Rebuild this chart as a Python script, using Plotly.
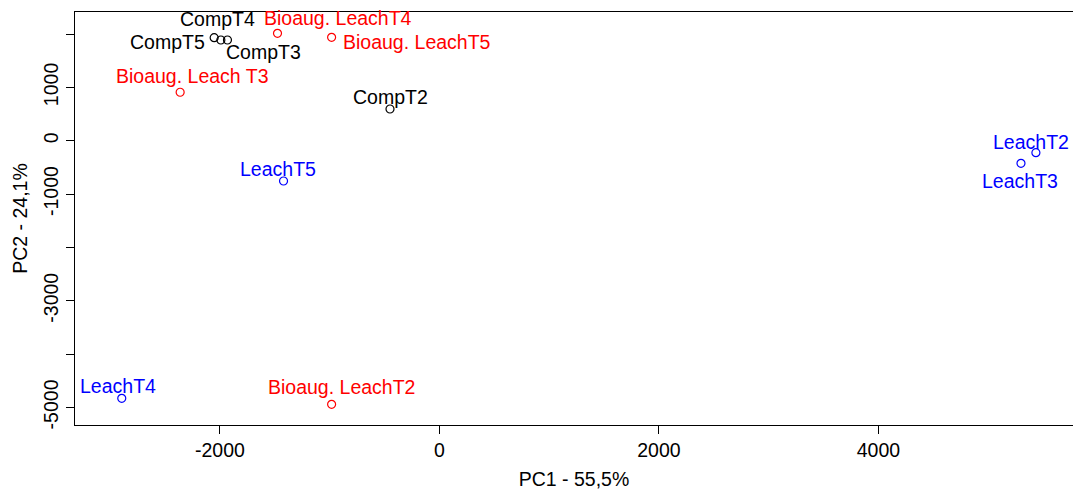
import plotly.graph_objects as go

# PCA scores
names = ["CompT2", "CompT3", "CompT4", "CompT5",
         "Bioaug. LeachT2", "Bioaug. Leach T3", "Bioaug. LeachT4", "Bioaug. LeachT5",
         "LeachT2", "LeachT3", "LeachT4", "LeachT5"]
pc1 = [-450, -1931, -1991, -2052,
       -982, -2362, -1475, -982,
       5435, 5299, -2894, -1420]
pc2 = [594, 1888, 1888, 1931,
       -4943, 908, 2014, 1939,
       -225, -424, -4830, -756]
groups = ["Comp"] * 4 + ["Bioaug"] * 4 + ["Leach"] * 4

colors = {"Comp": "black", "Bioaug": "red", "Leach": "blue"}

# label offsets in pixels (dx, dy up)
offsets = {
    "CompT2": (0, 12), "CompT3": (36, -12), "CompT4": (-3, 21), "CompT5": (-47, -4),
    "Bioaug. LeachT2": (10, 17), "Bioaug. Leach T3": (12, 16),
    "Bioaug. LeachT4": (60, 15), "Bioaug. LeachT5": (85, -5),
    "LeachT2": (-5, 11), "LeachT3": (-1, -18), "LeachT4": (-4, 12), "LeachT5": (-6, 12),
}

yticks = [-5000, -4000, -3000, -2000, -1000, 0, 1000, 2000]
ytext = ["-5000", "", "-3000", "", "-1000", "0", "1000", ""]
xticks = [-2000, 0, 2000, 4000]
xtext = ["-2000", "0", "2000", "4000"]

FONT = "Liberation Sans, Arial, sans-serif"

fig = go.Figure()

for g in ["Comp", "Bioaug", "Leach"]:
    idx = [i for i, gg in enumerate(groups) if gg == g]
    fig.add_trace(go.Scatter(
        x=[pc1[i] for i in idx],
        y=[pc2[i] for i in idx],
        mode="markers",
        marker=dict(symbol="circle-open", size=8, color=colors[g], line=dict(width=1.2)),
        name=g,
        showlegend=False,
        cliponaxis=False
    ))

for n, x, y, g in zip(names, pc1, pc2, groups):
    dx, dy = offsets[n]
    fig.add_annotation(
        x=x, y=y, text=n, showarrow=False,
        xshift=dx, yshift=dy,
        font=dict(family=FONT, size=19.5, color=colors[g])
    )

fig.update_layout(
    width=1073, height=490,
    margin=dict(l=75, r=0, t=12, b=65),
    plot_bgcolor="white",
    paper_bgcolor="white",
    font=dict(family=FONT, size=19.5, color="black"),
    showlegend=False
)

fig.update_xaxes(
    range=[-3320, 5773],
    tickvals=xticks, ticktext=xtext,
    showgrid=False, zeroline=False, automargin=False,
    showline=True, linecolor="black", linewidth=1, mirror=True,
    ticks="outside", ticklen=8, tickcolor="black",
    title=dict(text="PC1 - 55,5%", standoff=12, font=dict(size=19.5))
)

fig.update_yaxes(
    range=[-5331, 2413],
    tickvals=yticks, ticktext=ytext,
    tickangle=-90,
    showgrid=False, zeroline=False, automargin=False,
    showline=True, linecolor="black", linewidth=1,
    ticks="outside", ticklen=8, tickcolor="black",
    title=dict(text="PC2 - 24,1%", standoff=7, font=dict(size=19.5))
)

# drop the page's default body margin so the figure sits at the window corner
fig.write_html("out.html", config={"displayModeBar": False},
               post_script="document.body.style.margin='0';")
